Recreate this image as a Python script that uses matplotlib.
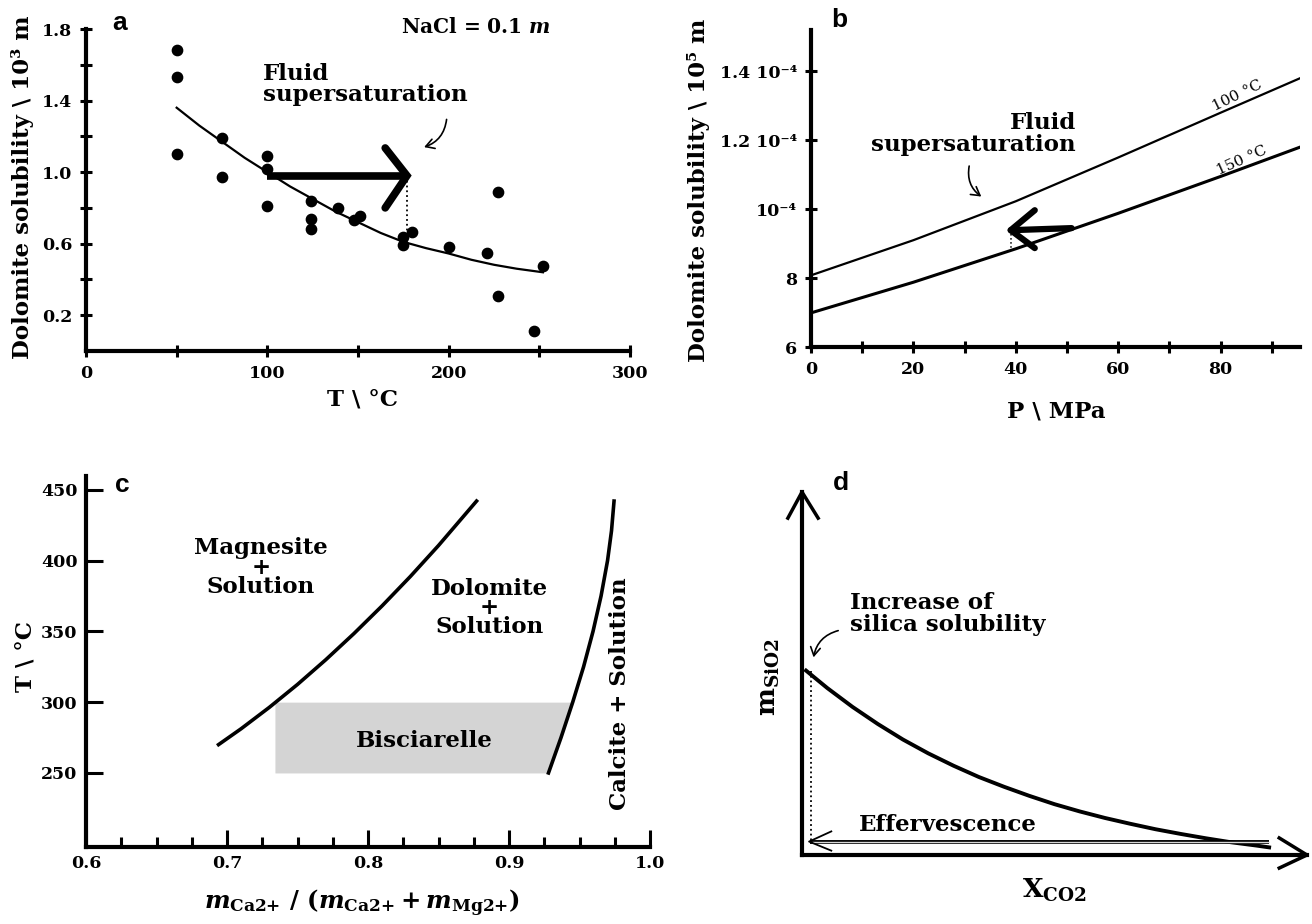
import matplotlib
matplotlib.use("Agg")
import matplotlib.pyplot as plt
from matplotlib.patches import FancyArrowPatch

# ---- data ----
# (a) dolomite solubility vs temperature
a_T = [50, 50, 50, 75, 75, 100, 100, 100, 124, 124, 124, 139, 148, 151,
       175, 175, 180, 200, 221, 227, 227, 247, 252]
a_sol = [1.68, 1.53, 1.10, 1.19, 0.97, 1.09, 1.02, 0.81, 0.84, 0.74, 0.68,
         0.80, 0.73, 0.755, 0.64, 0.59, 0.665, 0.58, 0.55, 0.89, 0.31, 0.11,
         0.475]
a_fit_T = [50, 62.5, 75, 87.5, 100, 112.5, 125, 137.5, 150, 162.5, 175,
           187.5, 200, 212.5, 225, 237.5, 252]
a_fit_sol = [1.36, 1.26, 1.17, 1.08, 1.00, 0.92, 0.85, 0.78, 0.72, 0.66,
             0.61, 0.575, 0.545, 0.51, 0.482, 0.46, 0.44]
a_xticks = [0, 50, 100, 150, 200, 250, 300]
a_xlabels = ["0", "", "100", "", "200", "", "300"]
a_yticks = [0.2, 0.4, 0.6, 0.8, 1.0, 1.2, 1.4, 1.6, 1.8]
a_ylabels = ["0.2", "", "0.6", "", "1.0", "", "1.4", "", "1.8"]

# (b) dolomite solubility vs pressure (x 1e-5 m)
b_P = [0, 20, 40, 60, 80, 95.5]
b_sol_100 = [8.08, 9.10, 10.23, 11.50, 12.80, 13.80]
b_sol_150 = [6.99, 7.88, 8.85, 9.88, 10.95, 11.80]
b_xticks = [0, 10, 20, 30, 40, 50, 60, 70, 80, 90]
b_xlabels = ["0", "", "20", "", "40", "", "60", "", "80", ""]
b_yticks = [6, 8, 10, 12, 14]
b_ylabels = ["6", "8", "10⁻⁴", "1.2 10⁻⁴", "1.4 10⁻⁴"]

# (c) phase diagram
c_left_x = [0.694, 0.71, 0.73, 0.75, 0.77, 0.79, 0.81, 0.83, 0.85, 0.877]
c_left_T = [270, 281.2, 296.3, 312.5, 329.9, 348.4, 368.0, 388.7, 410.6, 442]
c_right_x = [0.928, 0.9369, 0.9452, 0.9529, 0.9596, 0.9653, 0.9699, 0.9727,
             0.9745]
c_right_T = [250, 275, 300, 325, 350, 375, 400, 421, 442]
c_box_T = [250, 275, 300]
c_box_right = [0.928, 0.9369, 0.9452]
c_box_left = 0.734
c_xticks = [0.6, 0.7, 0.8, 0.9, 1.0]
c_yticks = [250, 300, 350, 400, 450]

# (d) schematic silica solubility vs X_CO2
d_x = [0.008, 0.05, 0.10, 0.15, 0.20, 0.25, 0.30, 0.35, 0.40, 0.45, 0.50,
       0.55, 0.60, 0.65, 0.70, 0.75, 0.80, 0.85, 0.90, 0.925]
d_m = [0.508, 0.460, 0.408, 0.361, 0.318, 0.280, 0.246, 0.215, 0.188, 0.163,
       0.140, 0.120, 0.102, 0.086, 0.071, 0.058, 0.046, 0.035, 0.026, 0.021]

W, H = 1312, 924
plt.rcParams["font.family"] = ["DejaVu Serif"]
plt.rcParams["font.weight"] = "bold"
plt.rcParams["mathtext.fontset"] = "dejavuserif"

fig = plt.figure(figsize=(W / 100, H / 100), dpi=100)


def px_axes(x0, y_top, x1, y_bot):
    return fig.add_axes([x0 / W, 1 - y_bot / H, (x1 - x0) / W, (y_bot - y_top) / H])


def px(x, y):
    return x / W, 1 - y / H


def style(ax, direction="inout", length=8):
    for s in ["top", "right"]:
        ax.spines[s].set_visible(False)
    for s in ["left", "bottom"]:
        ax.spines[s].set_linewidth(3)
    ax.tick_params(direction=direction, length=length, width=2.2,
                   labelsize=12.5, pad=6)
    for lab in ax.get_xticklabels() + ax.get_yticklabels():
        lab.set_fontweight("bold")


arrow_style = "->,head_length=6,head_width=3.5"

# ---------------- panel a ----------------
ax = px_axes(86, 29, 630, 351)
ax.set_xlim(0, 300)
ax.set_ylim(0, 1.8)
ax.scatter(a_T, a_sol, s=55, color="black", zorder=3, clip_on=False)
ax.plot(a_fit_T, a_fit_sol, color="black", lw=1.6)
ax.set_xticks(a_xticks, a_xlabels)
ax.set_yticks(a_yticks, a_ylabels)
style(ax)
ax.plot([100, 177], [0.98, 0.98], color="black", lw=5.5, solid_capstyle="butt")
ax.plot([165, 177, 165], [1.135, 0.98, 0.80], color="black", lw=5.5,
        solid_capstyle="round", solid_joinstyle="miter")
ax.plot([177, 177], [0.98, 0.64], color="black", lw=1.3, ls=":")
ax.text(97.6, 1.61, "Fluid\nsupersaturation", ha="left", va="top",
        fontsize=16.5, linespacing=0.95)
ax.add_patch(FancyArrowPatch((199, 1.31), (185, 1.135),
                             connectionstyle="arc3,rad=-0.35",
                             arrowstyle=arrow_style, lw=1.2, color="black"))
ax.text(215, 1.81, "NaCl = 0.1 $m$", ha="center", va="center",
        fontsize=14.5, clip_on=False)
fig.text(*px(362, 400), "T \\ °C", ha="center", va="center", fontsize=16.5)
fig.text(*px(23, 187), "Dolomite solubility \\ 10³ m", rotation=90,
         ha="center", va="center", fontsize=16.5)
fig.text(*px(120, 23), "a", family="Liberation Sans", fontsize=19,
         ha="center", va="center")

# ---------------- panel b ----------------
ax = px_axes(811, 30, 1300, 347)
ax.set_xlim(0, 95.5)
ax.set_ylim(6, 15.2)
ax.plot(b_P, b_sol_100, color="black", lw=1.6)
ax.plot(b_P, b_sol_150, color="black", lw=2.2)
ax.set_xticks(b_xticks, b_xlabels)
ax.set_yticks(b_yticks, b_ylabels)
style(ax)
ax.plot([50.9, 39.0], [9.45, 9.39], color="black", lw=4.5, solid_capstyle="round")
ax.plot([43.7, 39.0, 43.7], [9.97, 9.39, 8.87], color="black", lw=4.5,
        solid_capstyle="round")
ax.plot([39.0, 39.0], [9.39, 8.80], color="black", lw=1.1, ls=":")
ax.text(51.7, 12.81, "Fluid\nsupersaturation", ha="right", va="top",
        multialignment="right", fontsize=16.5, linespacing=0.95)
ax.add_patch(FancyArrowPatch((31.0, 11.33), (33.7, 10.32),
                             connectionstyle="arc3,rad=0.35",
                             arrowstyle=arrow_style, lw=1.2, color="black"))
ax.text(83.2, 13.30, "100 °C", rotation=26, ha="center", va="center",
        fontsize=11, fontweight="normal")
ax.text(84.2, 11.42, "150 °C", rotation=24, ha="center", va="center",
        fontsize=11, fontweight="normal")
fig.text(*px(1056, 412), "P \\ MPa", ha="center", va="center", fontsize=16.5)
fig.text(*px(698, 190), "Dolomite solubility \\ 10⁵ m", rotation=90,
         ha="center", va="center", fontsize=16.5)
fig.text(*px(839, 20), "b", family="Liberation Sans", fontsize=19,
         ha="center", va="center")

# ---------------- panel c ----------------
ax = px_axes(86, 476, 650, 847)
ax.set_xlim(0.6, 1.0)
ax.set_ylim(197.7, 459.7)
ax.fill_betweenx(c_box_T, c_box_left, c_box_right, color="#d4d4d4", lw=0)
ax.plot(c_left_x, c_left_T, color="black", lw=2.6)
ax.plot(c_right_x, c_right_T, color="black", lw=2.6)
ax.set_xticks(c_xticks, ["0.6", "0.7", "0.8", "0.9", "1.0"])
ax.set_xticks([0.6 + 0.025 * i for i in range(17)], minor=True)
ax.set_yticks(c_yticks)
style(ax, direction="in", length=12)
ax.tick_params(which="minor", direction="in", length=7, width=2.2)
ax.text(0.724, 395, "Magnesite\n+\nSolution", ha="center", va="center",
        fontsize=16.5, linespacing=0.85)
ax.text(0.886, 366.5, "Dolomite\n+\nSolution", ha="center", va="center",
        fontsize=16.5, linespacing=0.85)
ax.text(0.840, 272.6, "Bisciarelle", ha="center", va="center", fontsize=16.5)
ax.text(0.979, 306, "Calcite + Solution", rotation=90, ha="center",
        va="center", fontsize=16.5)
fig.text(*px(362, 903),
         r"$\mathit{m}_{\mathrm{Ca2{+}}}\ /\ (\mathit{m}_{\mathrm{Ca2{+}}}+\mathit{m}_{\mathrm{Mg2{+}}})$",
         ha="center", va="center", fontsize=17.5)
fig.text(*px(25, 657), "T \\ °C", rotation=90, ha="center", va="center",
         fontsize=16.5)
fig.text(*px(122, 485), "c", family="Liberation Sans", fontsize=19,
         ha="center", va="center")

# ---------------- panel d ----------------
ax = px_axes(802, 492, 1307, 855)
ax.set_xlim(0, 1)
ax.set_ylim(0, 1)
ax.axis("off")
ax.plot([0, 0], [0, 1], color="black", lw=3, clip_on=False)
ax.plot([0, 1], [0, 0], color="black", lw=3, clip_on=False)
ax.plot([-0.028, 0, 0.032], [0.928, 1, 0.928], color="black", lw=2.5,
        clip_on=False)
ax.plot([0.945, 1, 0.945], [0.047, 0, -0.036], color="black", lw=2.5,
        clip_on=False)
ax.plot(d_x, d_m, color="black", lw=2.8)
ax.plot([0.018, 0.018], [0.508, 0.037], color="black", lw=1.3, ls=":")
ax.plot([0.925, 0.016], [0.037, 0.037], color="black", lw=2.8,
        solid_capstyle="butt")
ax.plot([0.925, 0.02], [0.037, 0.037], color="#d8d8d8", lw=1.0,
        solid_capstyle="butt")
ax.plot([0.058, 0.014, 0.058], [0.065, 0.037, 0.012], color="black", lw=1.3)
ax.text(0.289, 0.083, "Effervescence", ha="center", va="center", fontsize=16.5)
ax.text(0.095, 0.664, "Increase of\nsilica solubility", ha="left",
        va="center", fontsize=16.5, linespacing=0.95)
ax.add_patch(FancyArrowPatch((0.077, 0.62), (0.022, 0.537),
                             connectionstyle="arc3,rad=0.35",
                             arrowstyle=arrow_style, lw=1.2, color="black"))
fig.text(*px(769, 677), r"$\mathrm{m}_{\mathrm{SiO2}}$", rotation=90,
         ha="center", va="center", fontsize=19)
fig.text(*px(1054, 890), r"$\mathrm{X}_{\mathrm{CO2}}$", ha="center",
         va="center", fontsize=19)
fig.text(*px(841, 483), "d", family="Liberation Sans", fontsize=19,
         ha="center", va="center")

fig.savefig("out.png", dpi=100)
